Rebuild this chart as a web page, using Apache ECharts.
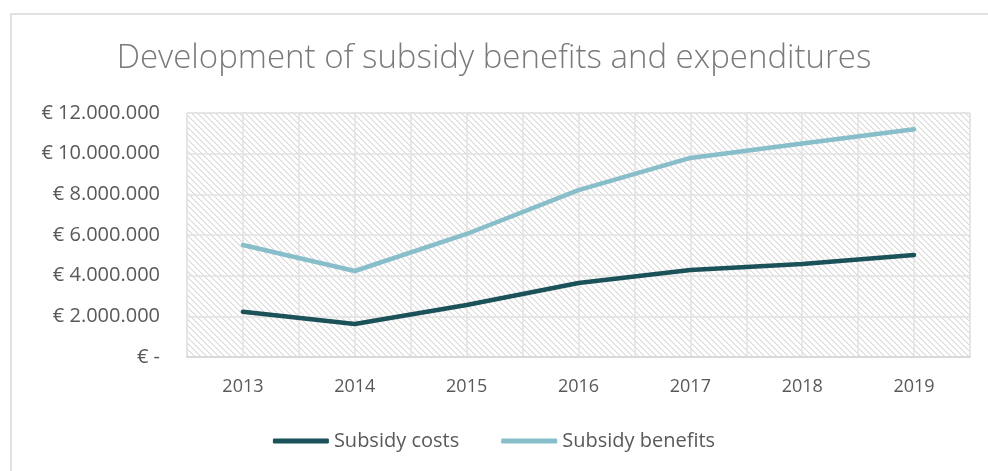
<!DOCTYPE html>
<html>
<head>
<meta charset="utf-8">
<script src="https://cdn.jsdelivr.net/npm/echarts@6/dist/echarts.min.js"></script>
<style>
  html, body { margin: 0; padding: 0; background: #fff; }
  #chart { width: 988px; height: 471px; }
</style>
</head>
<body>
<div id="chart"></div>
<script>
const years = ['2013', '2014', '2015', '2016', '2017', '2018', '2019'];
const subsidyCosts = [2230000, 1620000, 2560000, 3640000, 4280000, 4570000, 5020000];
const subsidyBenefits = [5510000, 4230000, 6050000, 8210000, 9790000, 10500000, 11200000];
const yTicks = [0, 2000000, 4000000, 6000000, 8000000, 10000000, 12000000];

// diagonal hatch for plot area
const makeHatch = () => {
  const c = document.createElement('canvas');
  c.width = 6; c.height = 6;
  const ctx = c.getContext('2d');
  ctx.fillStyle = '#fff';
  ctx.fillRect(0, 0, 6, 6);
  for (let x = 0; x < 6; x++) {
    for (let y = 0; y < 6; y++) {
      const d = (x - y + 6) % 6;
      if (d === 0) { ctx.fillStyle = '#d9d9d9'; ctx.fillRect(x, y, 1, 1); }
      if (d === 1) { ctx.fillStyle = '#eeeeee'; ctx.fillRect(x, y, 1, 1); }
    }
  }
  return { image: c, repeat: 'repeat' };
};

const fmt = (v) => v === 0 ? '€ -' : '€ ' + String(v).replace(/\B(?=(\d{3})+(?!\d))/g, '.');

const myChart = echarts.init(document.getElementById('chart'));
const font = 'Open Sans';

const option = {
  animation: false,
  textStyle: { fontFamily: font },
  title: {
    text: 'Development of subsidy benefits and expenditures',
    left: 'center',
    top: 37,
    textStyle: { fontFamily: font, fontWeight: 300, fontSize: 33, color: '#7a7a7a' }
  },
  graphic: [{
    type: 'rect',
    shape: { x: 11, y: 14, width: 1000, height: 500 },
    style: { fill: 'none', stroke: '#d9d9d9', lineWidth: 1.5 },
    silent: true
  }],
  legend: {
    bottom: 15,
    left: 'center',
    itemWidth: 56,
    itemHeight: 5,
    itemGap: 42,
    icon: 'roundRect',
    textStyle: { fontSize: 20, color: '#595959', fontFamily: font },
    data: ['Subsidy costs', 'Subsidy benefits']
  },
  grid: {
    left: 187,
    right: 18,
    top: 113,
    bottom: 114,
    show: true,
    backgroundColor: makeHatch(),
    borderColor: '#e0e0e0',
    borderWidth: 1
  },
  xAxis: [
    {
      type: 'category',
      data: years,
      boundaryGap: true,
      axisLine: { lineStyle: { color: '#d9d9d9', width: 2 } },
      axisTick: { show: false },
      axisLabel: { fontSize: 18, color: '#595959', margin: 21 },
      splitLine: { show: false }
    },
    {
      type: 'value',
      min: 0,
      max: 14,
      interval: 1,
      position: 'bottom',
      axisLine: { show: false },
      axisTick: { show: false },
      axisLabel: { show: false },
      splitLine: { show: true, lineStyle: { color: '#e2e2e2', width: 1.5 } }
    }
  ],
  yAxis: {
    type: 'value',
    min: 0,
    max: yTicks[yTicks.length - 1],
    interval: yTicks[1] - yTicks[0],
    axisLine: { show: false },
    axisTick: { show: false },
    axisLabel: { fontSize: 20, color: '#595959', margin: 27, formatter: fmt },
    splitLine: { lineStyle: { color: '#e2e2e2', width: 1.5 } }
  },
  series: [
    {
      name: 'Subsidy costs',
      type: 'line',
      data: subsidyCosts,
      symbol: 'none',
      lineStyle: { color: '#1b5158', width: 4.5, cap: 'round' },
      itemStyle: { color: '#1b5158' }
    },
    {
      name: 'Subsidy benefits',
      type: 'line',
      data: subsidyBenefits,
      symbol: 'none',
      lineStyle: { color: '#88bdca', width: 4.5, cap: 'round' },
      itemStyle: { color: '#88bdca' }
    }
  ]
};

myChart.setOption(option);
</script>
</body>
</html>
